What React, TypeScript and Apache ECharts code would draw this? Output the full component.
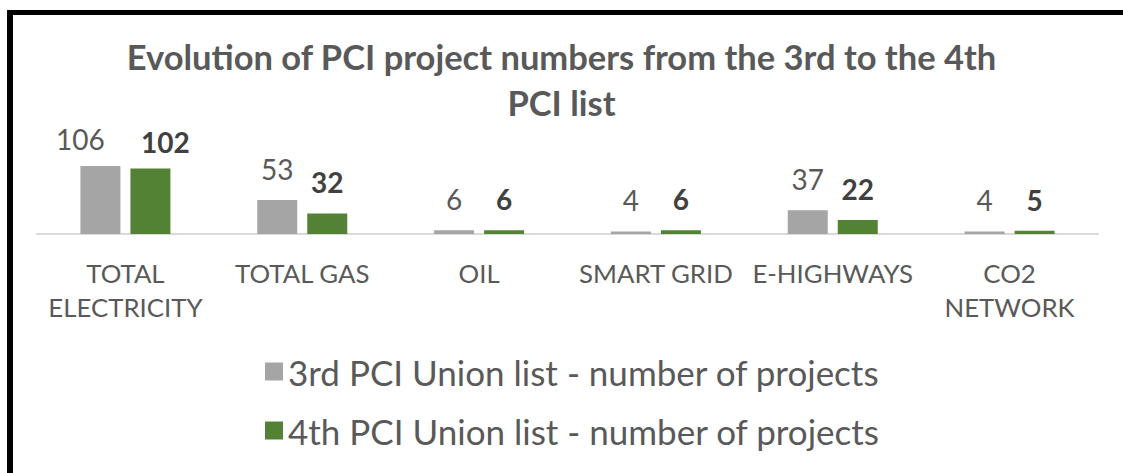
import React, { useEffect, useRef } from "react";
import * as echarts from "echarts";

const categories = ["TOTAL\nELECTRICITY", "TOTAL GAS", "OIL", "SMART GRID", "E-HIGHWAYS", "CO2\nNETWORK"];
const thirdListValues = [106, 53, 6, 4, 37, 4];
const fourthListValues = [102, 32, 6, 6, 22, 5];
const seriesNames = ["3rd PCI Union list - number of projects", "4th PCI Union list - number of projects"];
const titleText = "Evolution of PCI project numbers from the 3rd to the 4th\nPCI list";

const FONT = "Lato, 'Open Sans', sans-serif";

export default function App() {
  const ref = useRef<HTMLDivElement>(null);
  useEffect(() => {
    if (!ref.current) return;
    const chart = echarts.init(ref.current, undefined, { renderer: "svg" });
    chart.setOption({
      animation: false,
      backgroundColor: "#ffffff",
      textStyle: { fontFamily: FONT },
      title: {
        text: titleText,
        left: "center",
        top: 28,
        textStyle: {
          fontFamily: FONT,
          fontSize: 34.5,
          fontWeight: "bold",
          color: "#595959",
          lineHeight: 46,
        },
      },
      legend: {
        orient: "vertical",
        left: 260,
        top: 349,
        itemWidth: 18,
        itemHeight: 18,
        itemGap: 24,
        icon: "rect",
        textStyle: { fontFamily: FONT, fontSize: 35, color: "#595959", lineHeight: 35 },
      },
      grid: { left: 37, right: 25, top: 157, bottom: 239 },
      xAxis: {
        type: "category",
        data: categories,
        axisLine: { lineStyle: { color: "#D9D9D9", width: 2 } },
        axisTick: { show: false },
        axisLabel: {
          fontFamily: FONT,
          fontSize: 25.8,
          color: "#595959",
          lineHeight: 34,
          margin: 22,
          interval: 0,
        },
      },
      yAxis: {
        type: "value",
        min: 0,
        max: 120,
        show: false,
        splitLine: { show: false },
      },
      graphic: [
        { type: "rect", shape: { x: 7, y: 10, width: 6, height: 463 }, style: { fill: "#000" } },
        { type: "rect", shape: { x: 7, y: 10, width: 1116, height: 5 }, style: { fill: "#000" } },
      ],
      series: [
        {
          name: seriesNames[0],
          type: "bar",
          barWidth: 40,
          barGap: "25%",
          itemStyle: { color: "#A5A5A5" },
          label: {
            show: true,
            position: "top",
            distance: 17,
            fontFamily: FONT,
            fontSize: 28,
            color: "#595959",
          },
          data: thirdListValues.map((v, i) => (i === 0 ? { value: v, label: { offset: [-20, 4] } } : v)),
        },
        {
          name: seriesNames[1],
          type: "bar",
          barWidth: 40,
          barGap: "25%",
          itemStyle: { color: "#548235" },
          label: {
            show: true,
            position: "top",
            distance: 17,
            fontFamily: FONT,
            fontSize: 28,
            fontWeight: "bold",
            color: "#404040",
          },
          data: fourthListValues.map((v, i) => (i === 0 ? { value: v, label: { offset: [15, 4] } } : v)),
        },
      ],
    });
    return () => chart.dispose();
  }, []);
  return (
    <div
      ref={ref}
      style={{ position: "fixed", left: 0, top: 0, width: 1123, height: 473, background: "#fff" }}
    />
  );
}
